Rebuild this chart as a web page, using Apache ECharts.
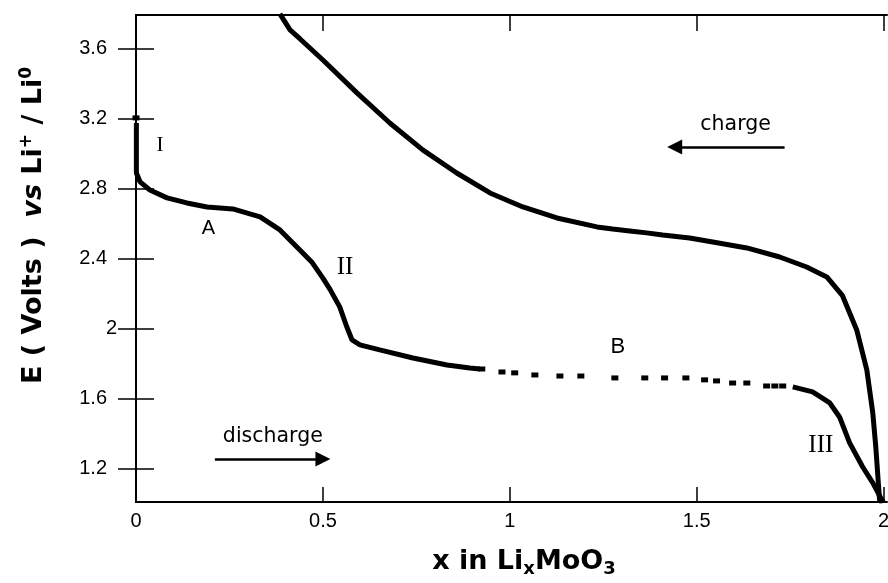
<!DOCTYPE html>
<html>
<head>
<meta charset="utf-8">
<script src="https://cdn.jsdelivr.net/npm/echarts@6/dist/echarts.min.js"></script>
<style>html,body{margin:0;padding:0;background:#fff}#c{width:888px;height:583px}</style>
</head>
<body>
<div id="c"></div>
<script>
// ---- data ----
// Discharge: solid part 1 (x in LixMoO3, E in V)
const disA_x = [0.001, 0.001, 0.011, 0.037, 0.083, 0.136, 0.19, 0.259, 0.332, 0.385, 0.439, 0.47, 0.5, 0.519, 0.545, 0.564, 0.578, 0.599, 0.652, 0.741, 0.832, 0.893, 0.92];
const disA_v = [3.177, 2.891, 2.84, 2.794, 2.749, 2.72, 2.697, 2.686, 2.64, 2.566, 2.45, 2.383, 2.29, 2.226, 2.126, 2.011, 1.937, 1.909, 1.88, 1.834, 1.794, 1.777, 1.771];
// Discharge: sparse points
const disDots_x = [0.0, 0.925, 0.979, 1.013, 1.067, 1.134, 1.19, 1.281, 1.361, 1.414, 1.471, 1.521, 1.553, 1.596, 1.634, 1.687, 1.709, 1.73];
const disDots_v = [3.206, 1.771, 1.754, 1.749, 1.737, 1.731, 1.731, 1.72, 1.72, 1.72, 1.72, 1.709, 1.703, 1.691, 1.691, 1.674, 1.674, 1.674];
// Discharge: solid part 2
const disB_x = [1.757, 1.81, 1.856, 1.882, 1.909, 1.944, 1.971, 1.995, 2.0];
const disB_v = [1.669, 1.64, 1.577, 1.497, 1.349, 1.211, 1.12, 1.023, 1.011];
// Charge curve
const chg_x = [0.385, 0.412, 0.439, 0.5, 0.591, 0.679, 0.767, 0.858, 0.947, 1.035, 1.126, 1.233, 1.275, 1.321, 1.366, 1.409, 1.481, 1.543, 1.634, 1.722, 1.794, 1.848, 1.89, 1.928, 1.955, 1.971, 1.979, 1.989, 1.995];
const chg_v = [3.80, 3.709, 3.657, 3.537, 3.349, 3.177, 3.023, 2.891, 2.777, 2.697, 2.634, 2.583, 2.571, 2.56, 2.549, 2.537, 2.52, 2.497, 2.463, 2.411, 2.354, 2.297, 2.19, 1.994, 1.766, 1.52, 1.326, 1.023, 1.011];
// Tick labels
const xTicks = [0, 0.5, 1, 1.5, 2];
const yTicks = [1.2, 1.6, 2, 2.4, 2.8, 3.2, 3.6];
// Annotations (text, x, E)
const noteText = ['I', 'A', 'II', 'B', 'III', 'charge', 'discharge'];
const noteX = [0.064, 0.194, 0.559, 1.289, 1.832, 1.604, 0.366];
const noteV = [3.05, 2.574, 2.349, 1.897, 1.337, 3.17, 1.383];
// Arrows (x0, E0) -> (x1, E1)
const arrowChg = [[1.735, 3.04], [1.441, 3.04]];
const arrowDis = [[0.211, 1.257], [0.5, 1.257]];

// ---- build ----
const zip = (a, b) => a.map((v, i) => [v, b[i]]);
const noteKey = {'I': 'r1', 'II': 'r2', 'III': 'r2', 'A': 'a', 'B': 'b', 'charge': 'c', 'discharge': 'c'};
const noteData = noteText.map((t, i) => ({value: [noteX[i], noteV[i]], name: t}));

const axisCommon = {
  type: 'value',
  axisLine: {show: true, lineStyle: {color: '#000', width: 2}},
  splitLine: {show: false},
  axisTick: {show: true, inside: true, length: 16, lineStyle: {color: '#000', width: 1.5}}
};
const X0 = 0, X1 = 2.009, Y0 = 1.011, Y1 = 3.794;
const tickFont = {color: '#000', fontFamily: 'Liberation Sans', fontSize: 20};

const option = {
  animation: false,
  backgroundColor: '#fff',
  grid: {left: 136, right: 1, top: 15, bottom: 81, containLabel: false, outerBoundsMode: 'none'},
  xAxis: [
    Object.assign({}, axisCommon, {
      position: 'bottom', min: X0, max: X1,
      axisTick: Object.assign({}, axisCommon.axisTick, {customValues: xTicks, length: 15}),
      axisLabel: Object.assign({customValues: xTicks, formatter: v => String(v), margin: 9}, tickFont),
      name: '{b|x in Li}{s|x}{b|MoO}{s|3}', nameLocation: 'middle', nameGap: 44,
      nameTextStyle: {padding: [0, 0, 0, 25], rich: {
        b: {fontFamily: 'DejaVu Sans', fontWeight: 'bold', fontSize: 27, color: '#000', lineHeight: 32},
        s: {fontFamily: 'DejaVu Sans', fontWeight: 'bold', fontSize: 18, color: '#000', lineHeight: 32, verticalAlign: 'bottom', padding: [12, 0, 0, 0]}
      }}
    }),
    Object.assign({}, axisCommon, {
      position: 'top', min: X0, max: X1,
      axisTick: Object.assign({}, axisCommon.axisTick, {customValues: xTicks}),
      axisLabel: {show: false}
    })
  ],
  yAxis: [
    Object.assign({}, axisCommon, {
      position: 'left', min: Y0, max: Y1,
      axisTick: Object.assign({}, axisCommon.axisTick, {customValues: yTicks, length: 18}),
      axisLabel: Object.assign({customValues: yTicks, margin: 29,
        formatter: v => (v === 2 ? '{n|2}' : String(v)),
        rich: {n: {width: 1, align: 'left', color: '#000', fontFamily: 'Liberation Sans', fontSize: 20}}}, tickFont),
      name: '{b|E ( Volts )  }{i|vs}{b| Li}{p|+}{b| / Li}{p|0}', nameLocation: 'middle', nameGap: 86, nameRotate: 90,
      nameTextStyle: {padding: [0, 0, 0, 66], rich: {
        b: {fontFamily: 'DejaVu Sans', fontWeight: 'bold', fontSize: 27, color: '#000', lineHeight: 32},
        i: {fontFamily: 'DejaVu Sans', fontWeight: 'bold', fontStyle: 'italic', fontSize: 27, color: '#000', lineHeight: 32},
        p: {fontFamily: 'DejaVu Sans', fontWeight: 'bold', fontSize: 17, color: '#000', lineHeight: 32, verticalAlign: 'top', padding: [0, 0, 12, 0]}
      }}
    }),
    Object.assign({}, axisCommon, {
      position: 'right', min: Y0, max: Y1,
      axisTick: Object.assign({}, axisCommon.axisTick, {customValues: yTicks, length: 18}),
      axisLabel: {show: false}
    })
  ],
  series: [
    {type: 'line', data: zip(disA_x, disA_v), showSymbol: false, lineStyle: {color: '#000', width: 5}},
    {type: 'scatter', data: zip(disDots_x, disDots_v), symbol: 'rect', symbolSize: [7, 5], itemStyle: {color: '#000', opacity: 1}},
    {type: 'line', data: zip(disB_x, disB_v), showSymbol: false, lineStyle: {color: '#000', width: 5}},
    {type: 'line', data: zip(chg_x, chg_v), showSymbol: false, lineStyle: {color: '#000', width: 5}},
    {type: 'scatter', data: noteData, symbolSize: 1, itemStyle: {color: '#fff', opacity: 0},
     label: {show: true, position: 'inside', opacity: 1,
       formatter: p => '{' + noteKey[p.name] + '|' + p.name + '}',
       rich: {
         r1: {fontFamily: 'Liberation Serif', fontSize: 21, color: '#000'},
         r2: {fontFamily: 'Liberation Serif', fontSize: 25, color: '#000'},
         a: {fontFamily: 'Liberation Sans', fontSize: 20, color: '#000'},
         b: {fontFamily: 'Liberation Sans', fontSize: 22, color: '#000'},
         c: {fontFamily: 'DejaVu Sans', fontSize: 20.5, color: '#000'}
       }}},
    {type: 'lines', coordinateSystem: 'cartesian2d', symbol: ['none', 'triangle'], symbolSize: [13, 15],
     lineStyle: {color: '#000', width: 2.5, opacity: 1}, itemStyle: {color: '#000'},
     data: [{coords: arrowChg}, {coords: arrowDis}]}
  ]
};
echarts.init(document.getElementById('c'), null, {renderer: 'canvas'}).setOption(option);
</script>
</body>
</html>
